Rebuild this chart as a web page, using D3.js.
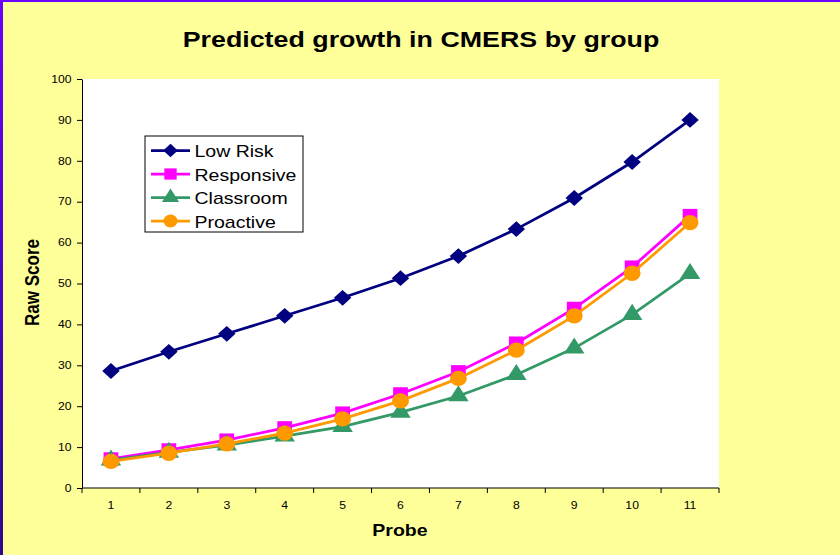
<!DOCTYPE html>
<html>
<head>
<meta charset="utf-8">
<script src="https://cdn.jsdelivr.net/npm/d3@7"></script>
<style>
  html, body { margin: 0; padding: 0; background: #ffff99; }
  svg { display: block; font-family: Arial, "Liberation Sans", sans-serif; }
</style>
</head>
<body>
<div id="chart"></div>
<script>
// data
const probes = [1, 2, 3, 4, 5, 6, 7, 8, 9, 10, 11];
const lowRisk    = [28.6, 33.3, 37.7, 42.1, 46.5, 51.3, 56.7, 63.3, 70.9, 79.7, 90.0];
const responsive = [7.1, 9.3, 11.7, 14.7, 18.3, 23.0, 28.4, 35.4, 43.9, 54.0, 66.6];
const classroom  = [6.8, 8.7, 10.5, 12.7, 15.0, 18.5, 22.5, 27.7, 34.2, 42.4, 52.4];
const proactive  = [6.5, 8.5, 10.8, 13.4, 16.9, 21.3, 26.8, 33.7, 42.1, 52.5, 64.9];
const yTicks = [0, 10, 20, 30, 40, 50, 60, 70, 80, 90, 100];

const series = [
  {name: "Low Risk",   values: lowRisk,    color: "#000080", symbol: d3.symbolDiamond2, size: 160},
  {name: "Responsive", values: responsive, color: "#ff00ff", symbol: d3.symbolSquare,   size: 180},
  {name: "Classroom",  values: classroom,  color: "#339966", symbol: d3.symbolTriangle,  size: 150},
  {name: "Proactive",  values: proactive,  color: "#ff9900", symbol: d3.symbolCircle,   size: 185}
];

// the original picture is a bit wider than tall, text looks stretched
const SX = 1.22;

const W = 840, H = 555;
const margin = {top: 79, right: 121, bottom: 67, left: 82},
    width = W - margin.left - margin.right,
    height = H - margin.top - margin.bottom;

const svg = d3.select("#chart").append("svg")
    .attr("width", W)
    .attr("height", H);

// background + purple frame
svg.append("rect").attr("width", W).attr("height", H).attr("fill", "#ffff99");
const grad = svg.append("defs").append("linearGradient")
    .attr("id", "edge").attr("x1", 0).attr("y1", 0).attr("x2", 0).attr("y2", 1);
grad.append("stop").attr("offset", "0%").attr("stop-color", "#6a00ff");
grad.append("stop").attr("offset", "100%").attr("stop-color", "#2a0a8a");
svg.append("rect").attr("x", 0).attr("y", 0).attr("width", 3).attr("height", H).attr("fill", "url(#edge)");
svg.append("rect").attr("x", 0).attr("y", 0).attr("width", W).attr("height", 2).attr("fill", "#6a00ff");

// title
svg.append("text")
    .attr("transform", `translate(421, 47) scale(${SX},1)`)
    .attr("text-anchor", "middle")
    .attr("font-size", "22px")
    .attr("font-weight", "bold")
    .text("Predicted growth in CMERS by group");

const g = svg.append("g")
    .attr("transform", `translate(${margin.left}, ${margin.top})`);

g.append("rect").attr("width", width).attr("height", height).attr("fill", "#ffffff");

const x = d3.scaleBand()
    .domain(probes)
    .range([0, width]);

const y = d3.scaleLinear()
    .domain([0, 100])
    .range([height, 0]);

// X axis: ticks sit between categories
const xAxis = g.append("g")
    .attr("transform", `translate(0, ${height})`)
    .call(d3.axisBottom(x).tickSize(0).tickPadding(14));
xAxis.select(".domain").attr("stroke", "#000").attr("d", `M0,0H${width}`);
xAxis.selectAll("text")
    .attr("font-size", "10px")
    .attr("font-family", "Arial, 'Liberation Sans', sans-serif")
    .attr("fill", "#000")
    .attr("transform", `scale(${SX},1)`);
xAxis.selectAll(".sep")
    .data(d3.range(probes.length + 1))
  .enter().append("line")
    .attr("class", "sep")
    .attr("x1", i => i * x.bandwidth())
    .attr("x2", i => i * x.bandwidth())
    .attr("y1", 0).attr("y2", 5)
    .attr("stroke", "#000");

// Y axis
const yAxis = g.append("g")
    .call(d3.axisLeft(y).tickValues(yTicks).tickSize(5).tickSizeOuter(0).tickPadding(3.6));
yAxis.select(".domain").attr("stroke", "#000");
yAxis.selectAll("line").attr("stroke", "#000");
yAxis.selectAll("text")
    .attr("font-size", "10px")
    .attr("font-family", "Arial, 'Liberation Sans', sans-serif")
    .attr("fill", "#000")
    .attr("transform", `scale(${SX},1)`);

// axis labels
svg.append("text")
    .attr("transform", `translate(39, 282.5) scale(${SX},1) rotate(-90)`)
    .attr("text-anchor", "middle")
    .attr("font-size", "17px")
    .attr("font-weight", "bold")
    .text("Raw Score");

svg.append("text")
    .attr("transform", `translate(400, 535.5) scale(${SX},1)`)
    .attr("text-anchor", "middle")
    .attr("font-size", "16px")
    .attr("font-weight", "bold")
    .text("Probe");

const cx = d => x(d) + x.bandwidth() / 2;
const line = d3.line()
    .x((v, i) => cx(probes[i]))
    .y(v => y(v));

// draw back to front: Low Risk, Responsive, Classroom, Proactive
series.forEach(s => {
  const sg = g.append("g");
  sg.append("path")
      .datum(s.values)
      .attr("d", line)
      .attr("fill", "none")
      .attr("stroke", s.color)
      .attr("stroke-width", 2.75);
  sg.selectAll("path.pt")
      .data(s.values)
    .enter().append("path")
      .attr("class", "pt")
      .attr("transform", (v, i) => `translate(${cx(probes[i])}, ${y(v)}) scale(1.1,1)`)
      .attr("d", d3.symbol().type(s.symbol).size(s.size))
      .attr("fill", s.color);
});

// legend
const legend = svg.append("g").attr("transform", "translate(145, 136)");
legend.append("rect")
    .attr("width", 158)
    .attr("height", 96)
    .attr("fill", "#ffffff")
    .attr("stroke", "#000")
    .attr("stroke-width", 1);
series.forEach((s, i) => {
  const ly = 14.5 + i * 23.5;
  legend.append("line")
      .attr("x1", 6).attr("x2", 45)
      .attr("y1", ly).attr("y2", ly)
      .attr("stroke", s.color)
      .attr("stroke-width", 2.75);
  legend.append("path")
      .attr("transform", `translate(25.5, ${ly}) scale(1.1,1)`)
      .attr("d", d3.symbol().type(s.symbol).size(s.size * 0.7))
      .attr("fill", s.color);
  legend.append("text")
      .attr("transform", `translate(49.5, ${ly + 6.5}) scale(${SX},1)`)
      .attr("font-size", "16px")
      .text(s.name);
});
</script>
</body>
</html>
